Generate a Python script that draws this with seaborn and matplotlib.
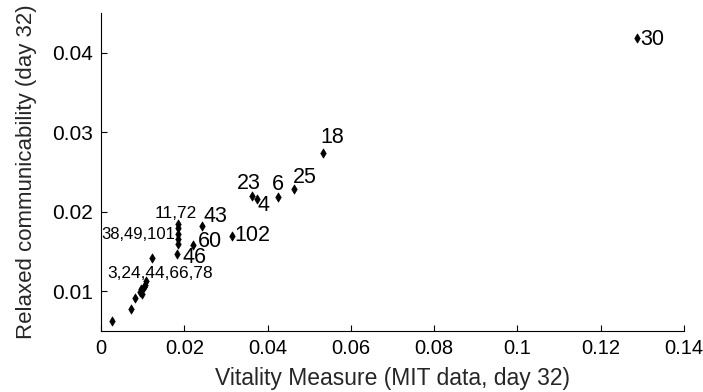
import matplotlib
matplotlib.use("Agg")
import matplotlib.pyplot as plt
from matplotlib.ticker import FuncFormatter
import seaborn as sns
import pandas as pd

# Node values: vitality measure vs. relaxed communicability (day 32)
vitality = [0.1287, 0.0534, 0.0464, 0.0424, 0.0375, 0.0363, 0.0314,
            0.0242, 0.0222, 0.0182,
            0.0184, 0.0184, 0.0184, 0.0184, 0.0184,
            0.0107, 0.0106, 0.0104, 0.0099, 0.0096,
            0.0123, 0.0093, 0.0082, 0.0073, 0.0026]
communicability = [0.0419, 0.0274, 0.0228, 0.0218, 0.0216, 0.0220, 0.0170,
                   0.0182, 0.0158, 0.0147,
                   0.0185, 0.0180, 0.0172, 0.0166, 0.0160,
                   0.0113, 0.0108, 0.0105, 0.0097, 0.0103,
                   0.0142, 0.0099, 0.0092, 0.0078, 0.0062]

# Node labels: text, index of anchor node, offset (points), alignment, size
label_text = ["30", "18", "25", "6", "23", "4", "102", "43", "60", "46",
              "11,72", "38,49,101", "3,24,44,66,78"]
label_anchor = [0, 1, 2, 3, 5, 4, 6, 7, 8, 9, 10, 12, 15]
label_offset = [(2.5, -5.5), (-2.5, 7), (-0.7, 4.5), (0, 5.3), (-11, 4.8),
                (0, -8.6), (1.7, -4.1), (1, 3.1), (3.2, -1.2), (4.3, -6.2),
                (-16.5, 3.8), (-1.8, -3.3), (-27.8, 2.0)]
label_ha = ["left", "left", "left", "center", "left", "left", "left",
            "left", "left", "left", "left", "right", "left"]
label_size = [15.5] * 10 + [12.5, 12, 12.5]

df = pd.DataFrame({"vitality": vitality, "communicability": communicability})

sns.set_style("ticks")
plt.rcParams["font.family"] = ["Liberation Sans", "DejaVu Sans"]

fig = plt.figure(figsize=(7.03, 3.92), dpi=100)
ax = fig.add_axes([0.1437, 0.1556, 0.8293, 0.8112])

sns.scatterplot(data=df, x="vitality", y="communicability", ax=ax,
                marker="d", s=22, color="black", edgecolor="black",
                linewidth=0.5, legend=False)

for txt, idx, off, ha, size in zip(label_text, label_anchor, label_offset,
                                   label_ha, label_size):
    ax.annotate(txt, (vitality[idx], communicability[idx]),
                xytext=off, textcoords="offset points",
                ha=ha, va="baseline", fontsize=size, color="black")

ax.set_xlim(0, 0.14)
ax.set_ylim(0.005, 0.045)
ax.set_xticks([0, 0.02, 0.04, 0.06, 0.08, 0.1, 0.12, 0.14])
ax.set_yticks([0.01, 0.02, 0.03, 0.04])
fmt = FuncFormatter(lambda v, p: f"{v:g}")
ax.xaxis.set_major_formatter(fmt)
ax.yaxis.set_major_formatter(fmt)

ax.tick_params(direction="in", length=4, width=0.8, labelsize=14.5,
               colors="black", pad=6)
ax.tick_params(axis="y", labelsize=15)
for side in ("top", "right"):
    ax.spines[side].set_visible(False)
for side in ("left", "bottom"):
    ax.spines[side].set_color("black")
    ax.spines[side].set_linewidth(0.8)

ax.set_xlabel("Vitality Measure (MIT data, day 32)", fontsize=16.5, labelpad=6)
ax.set_ylabel("Relaxed communicability (day 32)", fontsize=16, labelpad=11)

fig.savefig("out.png", dpi=100, facecolor="white")
